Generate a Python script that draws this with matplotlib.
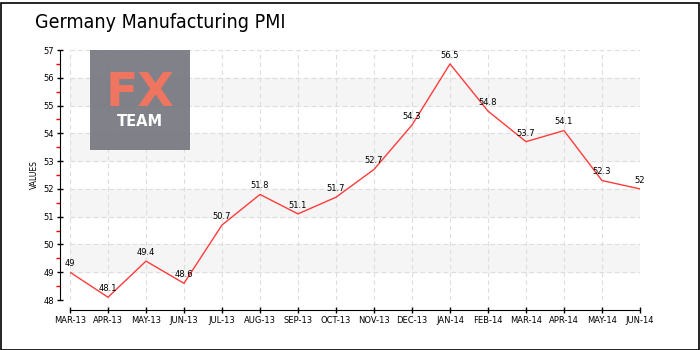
import numpy as np
import matplotlib.pyplot as plt
from matplotlib.patches import Rectangle

months = ['MAR-13', 'APR-13', 'MAY-13', 'JUN-13', 'JUL-13', 'AUG-13', 'SEP-13', 'OCT-13',
          'NOV-13', 'DEC-13', 'JAN-14', 'FEB-14', 'MAR-14', 'APR-14', 'MAY-14', 'JUN-14']
pmi = [49, 48.1, 49.4, 48.6, 50.7, 51.8, 51.1, 51.7, 52.7, 54.3, 56.5, 54.8, 53.7, 54.1, 52.3, 52]
label_txt = ['49', '48.1', '49.4', '48.6', '50.7', '51.8', '51.1', '51.7', '52.7', '54.3',
             '56.5', '54.8', '53.7', '54.1', '52.3', '52']

fig = plt.figure(figsize=(7, 3.5), dpi=100)
ax = fig.add_axes([70 / 700, 50 / 350, 570 / 700, 250 / 350])

x = np.arange(len(months))
ax.set_xlim(0, len(months) - 1)
ax.set_ylim(48, 57)

# alternating bands
for lo in [49, 51, 53, 55]:
    ax.axhspan(lo, lo + 1, color='#f5f5f5', zorder=0)

ax.set_yticks(np.arange(48, 58, 1))
ax.set_yticks(np.arange(48.5, 57, 1), minor=True)
ax.set_xticks(x)
ax.set_xticklabels(months)
ax.grid(True, which='major', color='#dddddd', linestyle=(0, (4, 3)), linewidth=0.8, zorder=1)

ax.plot(x, pmi, color='#ff3b3b', linewidth=1, zorder=3)
for xi, yi, t in zip(x, pmi, label_txt):
    ax.annotate(t, (xi, yi), xytext=(0, 3), textcoords='offset points',
                ha='center', va='bottom', fontsize=6, color='black', zorder=4)

for s in ['top', 'right']:
    ax.spines[s].set_visible(False)
ax.spines['left'].set_position(('outward', 7.2))
ax.spines['bottom'].set_position(('outward', 7.2))
ax.tick_params(axis='both', which='major', direction='inout', length=5, width=1,
               labelsize=6, pad=2)
ax.tick_params(axis='y', which='minor', direction='out', length=3, width=1, color='red')
ax.set_ylabel('VALUES', fontsize=5.5, labelpad=3)

# title
fig.text(35 / 700, 1 - 23 / 350, 'Germany Manufacturing PMI', fontsize=14,
         ha='left', va='center', color='black', family='DejaVu Sans',
         fontstretch='condensed')

# logo
fig.patches.append(Rectangle((90 / 700, 200 / 350), 100 / 700, 100 / 350,
                             transform=fig.transFigure, facecolor='#76777f', alpha=0.92,
                             edgecolor='none', zorder=5))
fig.text(140 / 700, 1 - 93 / 350, 'FX', fontsize=34, color='#f07560', ha='center',
         va='center', fontweight='bold', zorder=6)
fig.text(140 / 700, 1 - 122 / 350, 'TEAM', fontsize=10.5, color='white', ha='center',
         va='center', fontweight='bold', zorder=6)

# border
fig.patches.append(Rectangle((0.5 / 700, 0.5 / 350), 698 / 700, 347 / 350,
                             transform=fig.transFigure, fill=False, edgecolor='black',
                             linewidth=1.2))

plt.savefig('out.png')
